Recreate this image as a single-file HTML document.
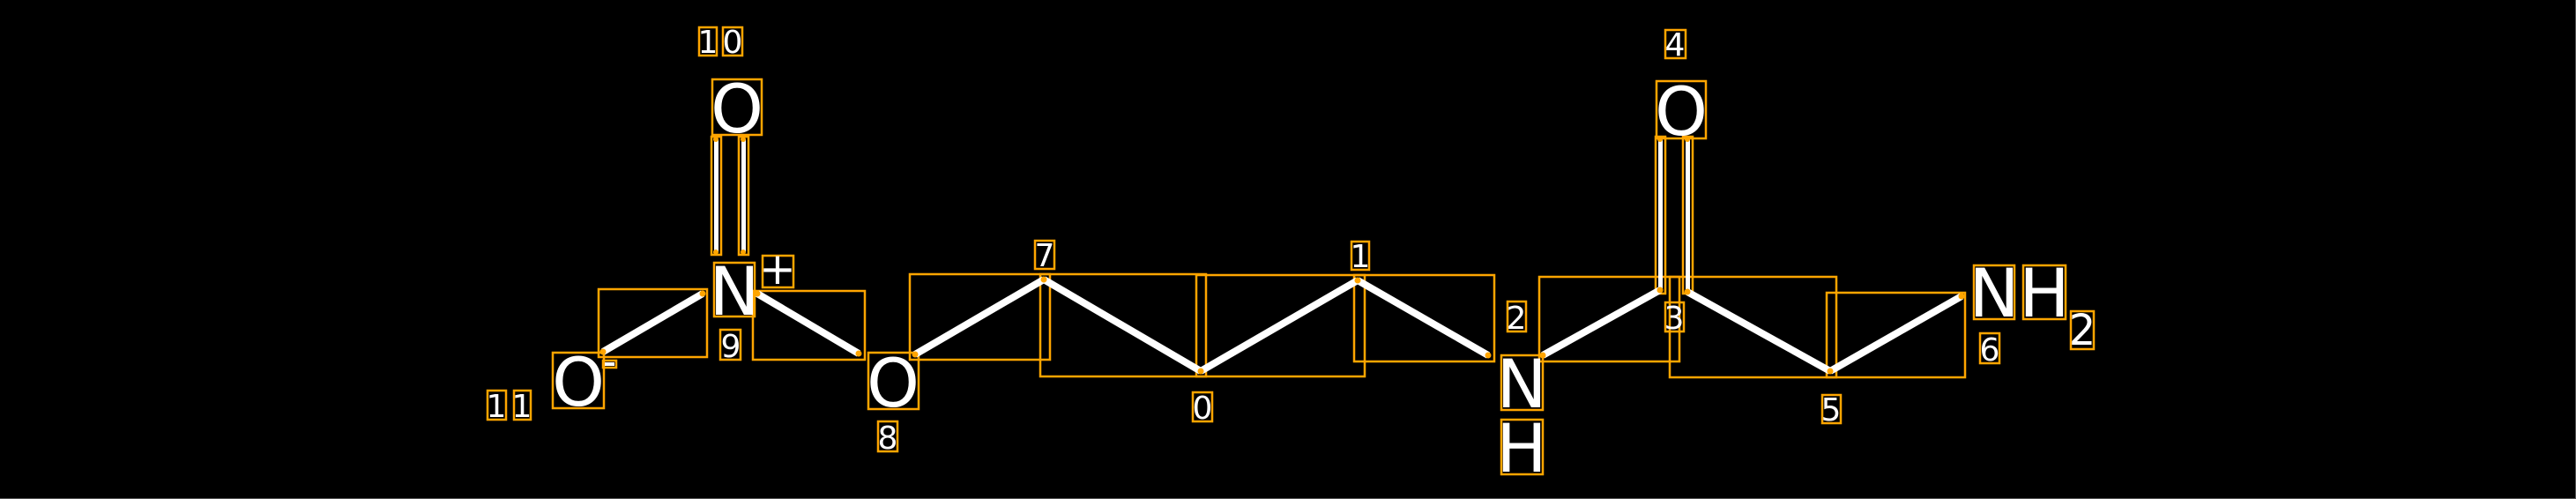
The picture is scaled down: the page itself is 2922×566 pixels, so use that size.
<!DOCTYPE html>
<html><head><meta charset="utf-8"><style>
html,body{margin:0;padding:0;background:#000;}
svg{display:block;}
text{font-family:"DejaVu Sans","Liberation Sans",sans-serif;fill:#fff;}
</style></head><body>
<svg width="2922" height="566" viewBox="0 0 2922 566" xmlns="http://www.w3.org/2000/svg">
<rect width="2922" height="566" fill="#000"/>
<line x1="0" y1="565.5" x2="2922" y2="565.5" stroke="#555" stroke-width="1"/>
<line x1="2921.5" y1="0" x2="2921.5" y2="566" stroke="#555" stroke-width="1"/>
<g fill="none" stroke="#FFA500" stroke-width="2.5">
<rect x="679" y="328" width="123" height="77"/>
<rect x="854" y="330" width="127" height="78"/>
<rect x="1032" y="311" width="159" height="97"/>
<rect x="1180" y="311" width="188" height="116"/>
<rect x="1357" y="312" width="191" height="115"/>
<rect x="1536" y="312" width="159" height="98"/>
<rect x="1746" y="314" width="159" height="96"/>
<rect x="1894" y="314" width="189" height="114"/>
<rect x="2072" y="332" width="157" height="96"/>
<rect x="807" y="155" width="11" height="134"/>
<rect x="838" y="155" width="11" height="134"/>
<rect x="1878" y="155" width="11" height="178"/>
<rect x="1909" y="155" width="11" height="178"/>
<rect x="793" y="31" width="20" height="32"/>
<rect x="820" y="31" width="22" height="32"/>
<rect x="808" y="90" width="56" height="63"/>
<rect x="810" y="298" width="46" height="61"/>
<rect x="865" y="290" width="35" height="36"/>
<rect x="817" y="374" width="23" height="34"/>
<rect x="627" y="400" width="58" height="63"/>
<rect x="684" y="409" width="15" height="8"/>
<rect x="553" y="443" width="21" height="33"/>
<rect x="583" y="443" width="19" height="33"/>
<rect x="985" y="400" width="57" height="64"/>
<rect x="996" y="478" width="22" height="34"/>
<rect x="1174" y="273" width="22" height="32"/>
<rect x="1353" y="445" width="22" height="33"/>
<rect x="1533" y="274" width="20" height="32"/>
<rect x="1710" y="342" width="21" height="34"/>
<rect x="1703" y="403" width="47" height="62"/>
<rect x="1703" y="476" width="47" height="62"/>
<rect x="1889" y="343" width="21" height="33"/>
<rect x="1879" y="92" width="56" height="65"/>
<rect x="1889" y="34" width="23" height="32"/>
<rect x="2067" y="448" width="21" height="32"/>
<rect x="2239" y="301" width="46" height="61"/>
<rect x="2295" y="301" width="48" height="61"/>
<rect x="2349" y="353" width="26" height="43"/>
<rect x="2246" y="378" width="22" height="34"/>
</g>
<g stroke="#fff" stroke-width="8" stroke-linecap="butt">
<line x1="684" y1="399" x2="797" y2="333"/>
<line x1="859" y1="333" x2="974" y2="401"/>
<line x1="1038" y1="402" x2="1184" y2="317"/>
<line x1="1184" y1="317" x2="1362" y2="421"/>
<line x1="1362" y1="421" x2="1540" y2="318"/>
<line x1="1540" y1="318" x2="1688" y2="403"/>
<line x1="1750" y1="403" x2="1883" y2="329"/>
<line x1="1914" y1="331" x2="2076" y2="421"/>
<line x1="2076" y1="421" x2="2225" y2="336"/>
</g>
<g stroke="#fff" stroke-width="5">
<line x1="812.5" y1="158" x2="812.5" y2="286"/>
<line x1="843.5" y1="158" x2="843.5" y2="286"/>
<line x1="1883.5" y1="158" x2="1883.5" y2="330"/>
<line x1="1914.5" y1="158" x2="1914.5" y2="330"/>
</g>
<g fill="#FFA500">
<circle cx="684" cy="399" r="3.5"/><circle cx="797" cy="333" r="3.5"/>
<circle cx="859" cy="333" r="3.5"/><circle cx="974" cy="401" r="3.5"/>
<circle cx="1038" cy="402" r="3.5"/><circle cx="1184" cy="317" r="3.5"/>
<circle cx="1362" cy="421" r="3.5"/><circle cx="1540" cy="318" r="3.5"/>
<circle cx="1688" cy="403" r="3.5"/><circle cx="1750" cy="403" r="3.5"/>
<circle cx="1883" cy="329" r="3.5"/><circle cx="1914" cy="331" r="3.5"/>
<circle cx="2076" cy="421" r="3.5"/><circle cx="2225" cy="336" r="3.5"/>
<circle cx="812" cy="158" r="3"/><circle cx="843" cy="158" r="3"/>
<circle cx="812" cy="286" r="3"/><circle cx="843" cy="286" r="3"/>
<circle cx="1883" cy="158" r="3"/><circle cx="1914" cy="158" r="3"/>
</g>
<g font-size="76" text-anchor="middle">
<text x="836" y="150">O</text>
<text x="833" y="357">N</text>
<text x="656" y="460">O</text>
<text x="1013" y="461">O</text>
<text x="1726" y="462">N</text>
<text x="1726" y="535">H</text>
<text x="1907" y="153">O</text>
<text x="2262" y="359">N</text>
<text x="2319" y="359">H</text>
</g>
<g font-size="36" text-anchor="middle">
<text x="803" y="60">1</text><text x="831" y="60">0</text>
<text x="829" y="405">9</text>
<text x="563" y="473">1</text><text x="592" y="473">1</text>
<text x="1007" y="509">8</text>
<text x="1185" y="302">7</text>
<text x="1364" y="475">0</text>
<text x="1543" y="303">1</text>
<text x="1720" y="373">2</text>
<text x="1899" y="373">3</text>
<text x="1900" y="63">4</text>
<text x="2077" y="477">5</text>
<text x="2257" y="409">6</text>
<text x="2362" y="391" font-size="48">2</text>
<text x="882" y="322" font-size="50">+</text>
</g>
<rect x="686" y="411" width="11" height="4" fill="#fff"/>
</svg>
</body></html>
